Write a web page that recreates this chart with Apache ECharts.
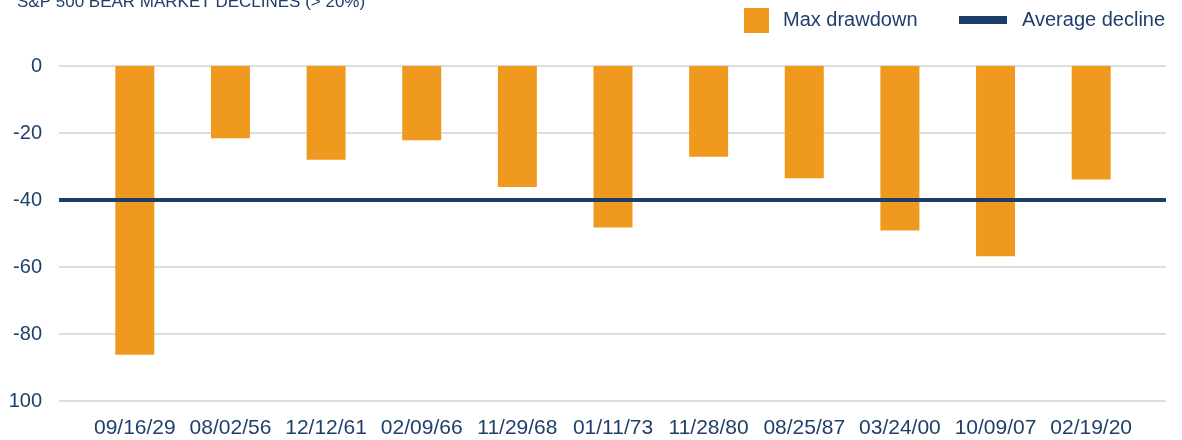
<!DOCTYPE html>
<html>
<head>
<meta charset="utf-8">
<title>S&amp;P 500 bear market declines</title>
<script src="https://cdn.jsdelivr.net/npm/echarts@6/dist/echarts.min.js"></script>
<style>
    html, body { margin: 0; padding: 0; background: #ffffff; }
    #main { width: 1182px; height: 440px; }
</style>
</head>
<body>
<div id="main"></div>
<script>
// data
var peakDates = ['09/16/29', '08/02/56', '12/12/61', '02/09/66', '11/29/68', '01/11/73', '11/28/80', '08/25/87', '03/24/00', '10/09/07', '02/19/20'];
var maxDrawdown = [-86.2, -21.6, -28.0, -22.2, -36.1, -48.2, -27.1, -33.5, -49.1, -56.8, -33.9];
var averageDecline = -40.0;
var yTicks = { min: -100, max: 0, step: 20 };

var navy = '#1f3f6b';
var orange = '#f0991f';
var font = 'Liberation Sans, Arial, sans-serif';

var drawChart = function(element)
{
    var myChart = echarts.init(element, null, {
        renderer: 'canvas',
        useDirtyRect: false
    });

    var option = {
        animation: false,
        title: {
            text: 'S&P 500 BEAR MARKET DECLINES (> 20%)',
            left: 12,
            top: -11,
            textStyle: {
                color: navy,
                fontSize: 17,
                fontWeight: 'normal',
                fontFamily: font
            }
        },
        legend: [{
            data: [{ name: 'Max drawdown', icon: 'rect' }],
            left: 744,
            top: 8,
            padding: 0,
            itemWidth: 25,
            itemHeight: 25,
            textStyle: { color: navy, fontSize: 20, fontFamily: font, padding: [0, 0, 0, 9] }
        }, {
            data: [{ name: 'Average decline', icon: 'rect' }],
            left: 959,
            top: 10,
            padding: 0,
            itemWidth: 48,
            itemHeight: 8,
            textStyle: { color: navy, fontSize: 20, fontFamily: font, padding: [0, 0, 0, 10] }
        }],
        grid: [{
            left: 59,
            right: 16,
            top: 66,
            bottom: 39
        }, {
            left: 87,
            right: 43,
            top: 66,
            bottom: 39
        }],
        xAxis: [{
            type: 'value',
            gridIndex: 0,
            min: 0,
            max: 1,
            show: false
        }, {
            type: 'category',
            gridIndex: 1,
            data: peakDates,
            axisLine: { show: false },
            axisTick: {
                show: true,
                alignWithLabel: true,
                length: 11,
                lineStyle: { color: '#c8c8c8', width: 1.5 }
            },
            axisLabel: {
                interval: 0,
                margin: 17,
                color: navy,
                fontSize: 21,
                fontFamily: font
            }
        }],
        yAxis: [{
            type: 'value',
            gridIndex: 0,
            min: yTicks.min,
            max: yTicks.max,
            interval: yTicks.step,
            axisLine: { show: false },
            axisTick: { show: false },
            splitLine: { lineStyle: { color: '#d2d2d2', width: 1.5 } },
            axisLabel: {
                margin: 17,
                color: navy,
                fontSize: 20,
                fontFamily: font,
                formatter: function(v) {
                    // the reference prints the bottom tick without its minus sign
                    return v === -100 ? '100' : String(v);
                }
            }
        }, {
            type: 'value',
            gridIndex: 1,
            min: yTicks.min,
            max: yTicks.max,
            show: false
        }],
        series: [{
            name: 'Max drawdown',
            type: 'bar',
            xAxisIndex: 1,
            yAxisIndex: 1,
            barWidth: 39,
            data: maxDrawdown,
            color: orange,
            z: 2
        }, {
            name: 'Average decline',
            type: 'line',
            xAxisIndex: 0,
            yAxisIndex: 0,
            data: [[0, averageDecline], [1, averageDecline]],
            symbol: 'none',
            color: '#1b3e69',
            lineStyle: { width: 4, color: '#1b3e69' },
            z: 5
        }]
    };

    if (option && typeof option === 'object') {
        myChart.setOption(option);
    }

    window.addEventListener('resize', myChart.resize);
}

drawChart(document.getElementById('main'));
</script>
</body>
</html>
